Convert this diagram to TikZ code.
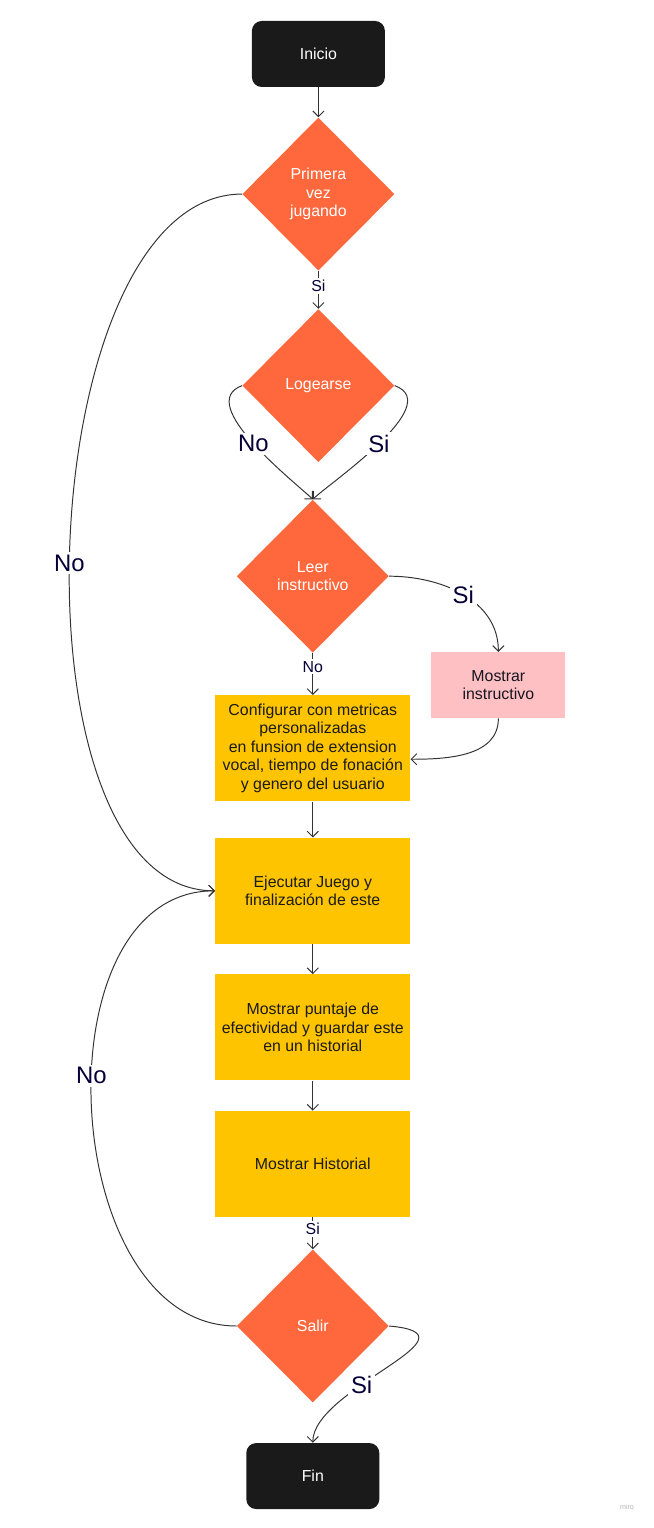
\documentclass[tikz,border=0pt]{standalone}
\usepackage{fontspec}
\setmainfont{Liberation Sans}
\usetikzlibrary{positioning,shapes.geometric,arrows.meta}
\definecolor{nightink}{RGB}{26,26,26}
\definecolor{tangerine}{RGB}{255,104,61}
\definecolor{sunflower}{RGB}{254,196,0}
\definecolor{blush}{RGB}{255,192,195}
\definecolor{wire}{RGB}{51,51,51}
\definecolor{midnight}{RGB}{5,0,56}

\begin{document}
\begin{tikzpicture}[
    node distance=0.75cm and 1.05cm,
    font=\fontsize{11.3}{13.1}\selectfont,
    terminal/.style={fill=nightink, text=white, rounded corners=7pt, minimum width=3.325cm, minimum height=1.65cm, align=center},
    decision/.style={diamond, fill=tangerine, text=white, minimum width=3.8cm, minimum height=3.825cm, inner sep=0pt, align=center},
    process/.style={fill=sunflower, text=nightink, minimum width=4.875cm, minimum height=2.65cm, inner sep=2pt, align=center},
    aside/.style={fill=blush, text=nightink!80!midnight, minimum width=3.35cm, minimum height=1.65cm, align=center},
    arrow/.style={-{Straight Barb[length=1.4mm,width=2.8mm]}, line width=0.7pt, color=wire},
    edgetext/.style={fill=white, inner sep=1.5pt, text=midnight},
    bigtext/.style={fill=white, inner sep=2pt, text=midnight, font=\fontsize{17}{20}\selectfont}
]
    \useasboundingbox (0,0) rectangle (16.35,-38.2);

    % Nodes
    \node [terminal] (inicio) at (7.96,-1.35) {Inicio};
    \node [decision, below=of inicio] (primera) {Primera\\vez\\jugando};
    \node [decision, below=0.95cm of primera] (logearse) {Logearse};
    \node [decision, below=0.925cm of logearse, xshift=-0.14cm] (leer) {Leer\\instructivo};
    \node [aside, right=of leer, yshift=-2.725cm] (instructivo) {Mostrar\\instructivo};
    \node [process, below=1.05cm of leer] (configurar) {Configurar con metricas\\personalizadas\\en funsion de extension\\vocal, tiempo de fonación\\y genero del usuario};
    \node [process, below=0.9cm of configurar] (ejecutar) {Ejecutar Juego y\\finalización de este};
    \node [process, below=of ejecutar] (puntaje) {Mostrar puntaje de\\efectividad y guardar este\\en un historial};
    \node [process, below=of puntaje] (historial) {Mostrar Historial};
    \node [decision, below=0.8cm of historial] (salir) {Salir};
    \node [terminal, below=1cm of salir] (fin) {Fin};
    \node [font=\tiny, text=black!30] (marca) at (15.675,-37.675) {miro};

    % Paths
    \draw [arrow] (inicio) -- (primera);
    \draw [arrow] (primera) -- node[edgetext, pos=0.4] {Si} (logearse);
    \draw [arrow] (logearse.west) to[out=200, in=135, out looseness=1, in looseness=0.4] node[bigtext] {No} (leer.north);
    \draw [arrow] (logearse.east) to[out=-20, in=45, out looseness=1, in looseness=0.4] node[bigtext] {Si} (leer.north);
    \draw [arrow] (leer) -- node[edgetext, pos=0.33] {No} (configurar);
    \draw [arrow] (leer.east) to[out=0, in=90] node[bigtext] {Si} (instructivo.north);
    \draw [arrow] (instructivo.south) to[out=-90, in=0] ([yshift=-0.275cm]configurar.east);
    \draw [arrow] (configurar) -- (ejecutar);
    \draw [arrow] (primera.west) to[out=180, in=180, looseness=0.775] node[bigtext, pos=0.52] {No} (ejecutar.west);
    \draw [arrow] (ejecutar) -- (puntaje);
    \draw [arrow] (puntaje) -- (historial);
    \draw [arrow] (historial) -- node[edgetext, pos=0.375] {Si} (salir);
    \draw [arrow] (salir.west) to[out=180, in=180, looseness=1.05] node[bigtext, pos=0.55] {No} (ejecutar.west);
    \draw [arrow] (salir.east) to[out=-5, in=90, out looseness=1.8, in looseness=1] node[bigtext, pos=0.63] {Si} (fin.north);
\end{tikzpicture}
\end{document}
